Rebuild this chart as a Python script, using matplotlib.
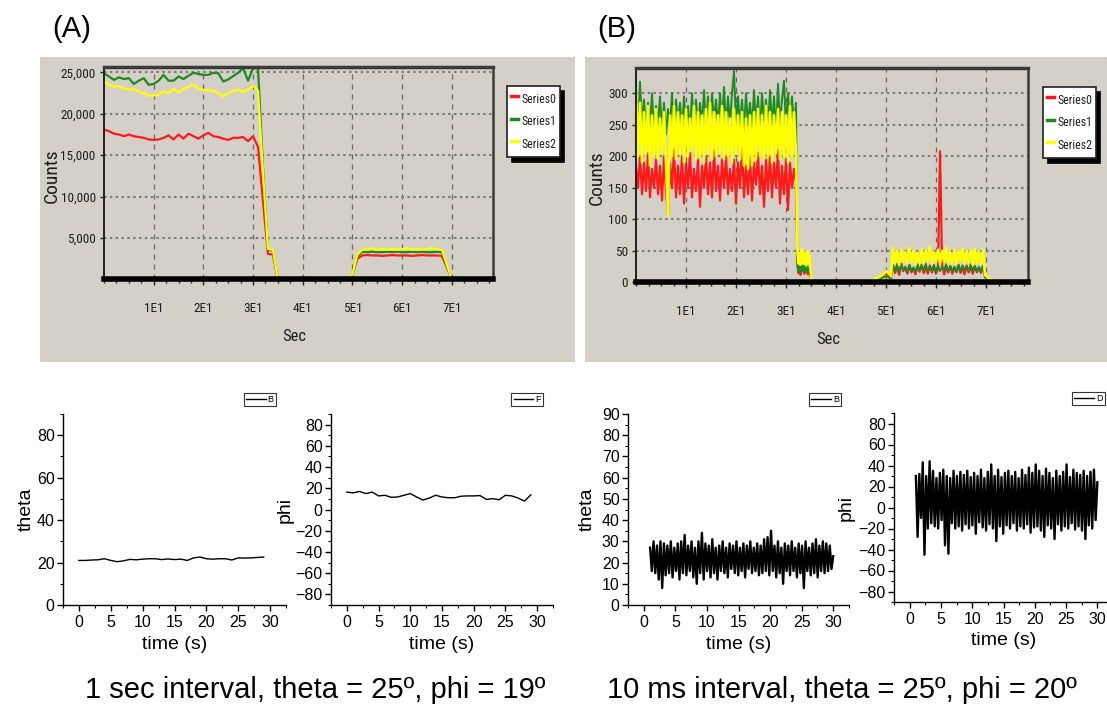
import numpy as np
import matplotlib
matplotlib.use('Agg')
import matplotlib.pyplot as plt
from matplotlib.patches import Rectangle
from matplotlib.lines import Line2D
from matplotlib.ticker import MultipleLocator
from matplotlib import font_manager

# ---------------------------------------------------------------- data
# (A) 1 s interval, counts per second, t = 0 .. 77 s
a_time = np.arange(78)
a_series0 = [18100, 17900, 17600, 17500, 17300, 17500, 17300, 17200, 17100, 16900,
             16850, 16900, 17100, 17400, 16900, 17500, 17000, 17600, 17300, 17000,
             17400, 17700, 17300, 17200, 17000, 16850, 17100, 17100, 17200, 16700,
             17300, 16000, 9500, 3100, 3000, 0,
             0, 0, 0, 0, 0, 0, 0, 0, 0, 0, 0, 0,
             0, 100, 600, 2500,
             2900, 2950, 2900, 2900, 2850, 2900, 2950, 2900, 2900, 2900, 2850, 2900, 2950, 2900, 2900, 2900,
             2850, 1500,
             0, 0, 0, 0, 0, 0, 0, 0]
a_series1 = [24900, 24500, 24100, 24400, 24200, 24300, 23600, 24000, 24300, 23500,
             23600, 24000, 24700, 24000, 24000, 24500, 24200, 24600, 24950, 24800,
             24700, 24700, 24950, 24900, 23900, 24150, 24550, 24950, 25500, 24000,
             25500, 25500, 13500, 3600, 3500, 0,
             0, 0, 0, 0, 0, 0, 0, 0, 0, 0, 0, 0,
             0, 150, 500, 2800,
             3350, 3300, 3350, 3300, 3300, 3350, 3300, 3350, 3300, 3300, 3350, 3300, 3350, 3300, 3300, 3350,
             3300, 1700,
             0, 0, 0, 0, 0, 0, 0, 0]
a_series2 = [23900, 23500, 23300, 23300, 23100, 22950, 22950, 22700, 22500, 22200,
             22200, 22300, 22700, 22500, 23000, 22600, 23000, 23300, 23500, 23000,
             22900, 22800, 22800, 22500, 22100, 22500, 22800, 22900, 22600, 22900,
             23400, 22800, 13000, 3700, 3600, 0,
             0, 0, 0, 0, 0, 0, 0, 0, 0, 0, 0, 0,
             150, 200, 600, 3000,
             3600, 3650, 3800, 3600, 3650, 3600, 3700, 3600, 3650, 3800, 3600, 3650, 3600, 3700, 3800, 3650,
             3600, 1800,
             0, 0, 0, 0, 0, 0, 0, 0]

# (B) 10 ms interval, counts, read segment by segment (start s, end s)
b_segments = [(0.0, 32.0), (32.3, 34.8), (35.1, 51.0), (51.4, 69.4), (69.8, 78.4)]
b_series0 = [
    [185, 150, 200, 140, 190, 145, 205, 135, 180, 150, 195, 140, 185, 130, 200, 145, 106, 190, 150, 210,
     135, 185, 140, 200, 125, 190, 150, 205, 135, 180, 145, 195, 120, 185, 150, 200, 140, 190, 135, 210,
     145, 185, 130, 195, 150, 200, 140, 180, 145, 195, 125, 190, 150, 215, 135, 185, 140, 200, 130, 190,
     155, 205, 140, 185, 120, 195, 145, 200, 135, 190, 150, 210, 125, 185, 140, 195, 115, 190, 150, 180, 160],
    [30, 15, 25, 12, 28, 18, 22, 14, 26, 16, 24, 13, 20, 15],
    [3, 1, 2, 0, 1, 2, 1, 0, 2, 1, 1, 2, 0, 1, 2, 4, 6, 10, 14, 8],
    [28, 15, 25, 12, 30, 18, 24, 14, 27, 16, 22, 13, 26, 17, 28, 15, 24, 14, 27, 16, 25, 14, 22, 208,
     28, 13, 24, 16, 26, 14, 23, 17, 28, 15, 25, 13, 27, 16, 24, 14, 26, 17, 23, 15, 25],
    [10, 5, 3, 2, 1, 2, 1, 2, 1, 2, 1, 2],
]
b_series1 = [
    [300, 240, 318, 250, 290, 235, 285, 245, 300, 230, 280, 250, 295, 240, 285, 235, 275, 245, 300, 230,
     290, 250, 285, 240, 295, 245, 280, 235, 300, 250, 290, 240, 285, 250, 305, 245, 295, 240, 300, 255,
     290, 245, 300, 250, 310, 245, 295, 250, 300, 335, 250, 295, 245, 290, 240, 300, 250, 285, 245, 305,
     250, 295, 240, 300, 255, 290, 245, 305, 250, 295, 240, 315, 250, 290, 320, 245, 300, 250, 295, 245, 285],
    [25, 18, 30, 15, 28, 20, 26, 17, 30, 18, 27, 16, 24, 18],
    [2, 1, 2, 1, 0, 1, 2, 1, 1, 0, 2, 1, 1, 2, 1, 3, 5, 8, 10, 6],
    [26, 18, 30, 16, 27, 20, 25, 15, 28, 19, 24, 16, 29, 18, 26, 20, 30, 17, 25, 19, 28, 16, 27, 18,
     24, 20, 29, 17, 26, 19, 25, 16, 28, 18, 27, 20, 24, 17, 29, 19, 26, 16, 25, 18, 27],
    [8, 4, 2, 2, 1, 1, 2, 1, 2, 1, 1, 2],
]
b_series2 = [
    [305, 200, 285, 190, 270, 205, 280, 185, 265, 200, 275, 195, 260, 205, 270, 190, 105, 265, 200, 280,
     195, 270, 205, 265, 190, 275, 200, 260, 210, 280, 195, 270, 200, 265, 190, 275, 205, 285, 195, 270,
     200, 265, 205, 280, 195, 270, 200, 260, 190, 275, 205, 265, 195, 270, 185, 260, 180, 265, 185, 270,
     195, 275, 200, 265, 195, 280, 200, 270, 190, 265, 205, 275, 195, 270, 200, 265, 190, 280, 200, 270, 205],
    [50, 30, 45, 28, 52, 32, 48, 30, 45, 27, 50, 33, 44, 30],
    [3, 2, 1, 2, 1, 2, 1, 2, 2, 1, 2, 1, 2, 1, 2, 5, 8, 12, 18, 10],
    [55, 30, 50, 28, 52, 33, 48, 30, 55, 32, 50, 28, 47, 31, 53, 30, 50, 35, 56, 30, 48, 32, 52, 29,
     50, 33, 55, 30, 47, 31, 52, 29, 50, 34, 54, 30, 49, 32, 51, 28, 53, 31, 48, 30, 52],
    [12, 6, 4, 3, 2, 3, 2, 3, 2, 3, 2, 3],
]
series_names = ['Series0', 'Series1', 'Series2']
series_colors = ['#FF1A1A', '#1F8A1F', '#FFFF00']

sec_ticks = [10, 20, 30, 40, 50, 60, 70]
sec_labels = ['1E1', '2E1', '3E1', '4E1', '5E1', '6E1', '7E1']
a_yticks = [5000, 10000, 15000, 20000, 25000]
a_ylabels = ['5,000', '10,000', '15,000', '20,000', '25,000']
b_yticks = [0, 50, 100, 150, 200, 250, 300]
b_ylabels = ['0', '50', '100', '150', '200', '250', '300']

# bottom row: 1 s interval (t = 0..29 s)
slow_time = np.arange(30)
theta_slow = [21.0, 21.0, 21.2, 21.3, 21.8, 21.0, 20.4, 20.8, 21.5, 21.3,
              21.6, 21.8, 21.8, 21.4, 21.7, 21.4, 21.6, 21.0, 22.2, 22.6,
              21.8, 21.6, 21.8, 21.8, 21.2, 22.2, 22.1, 22.2, 22.4, 22.6]
phi_slow = [16.4, 15.7, 17.0, 15.0, 16.4, 12.8, 13.4, 11.5, 11.8, 13.4,
            15.0, 11.8, 8.9, 10.8, 13.4, 11.8, 11.1, 11.1, 12.5, 12.8,
            12.8, 13.1, 9.5, 10.2, 9.2, 13.4, 12.8, 10.8, 7.9, 13.8]
# bottom row: 10 ms interval (t = 1..30 s)
fast_range = (1.0, 30.0)
theta_fast = [27, 16, 30, 15, 28, 12, 30, 8, 29, 14,
              28, 15, 30, 13, 27, 16, 29, 12, 30, 15,
              33, 14, 28, 16, 30, 13, 27, 10, 30, 15,
              34, 12, 29, 16, 28, 13, 31, 15, 27, 12,
              28, 16, 30, 15, 27, 13, 29, 17, 28, 15,
              30, 14, 27, 16, 29, 13, 28, 17, 30, 15,
              27, 16, 29, 14, 28, 15, 31, 16, 32, 14,
              35, 16, 28, 13, 30, 15, 27, 10, 29, 16,
              28, 14, 30, 16, 27, 13, 29, 15, 28, 8,
              30, 16, 27, 14, 29, 15, 31, 13, 28, 16,
              30, 15, 29, 16, 28, 17, 23]
phi_fast = [30, -28, 32, -10, 43, -45, 30, -20, 44, -15,
            35, -18, 28, -20, 33, -12, 36, -36, 30, -44,
            28, -15, 35, -20, 30, -18, 34, -22, 31, -16,
            35, -20, 29, -17, 33, -25, 30, -14, 36, -19,
            28, -22, 34, -16, 41, -20, 30, -32, 36, -18,
            29, -25, 33, -17, 35, -20, 30, -15, 34, -22,
            28, -18, 36, -20, 31, -16, 38, -24, 33, -19,
            41, -18, 35, -22, 30, -28, 37, -17, 33, -20,
            28, -30, 35, -16, 30, -22, 34, -18, 41, -20,
            29, -15, 36, -21, 33, -18, 31, -22, 35, -30,
            30, -17, 34, -20, 36, -12, 24]

caption_slow = '1 sec interval, theta = 25º, phi = 19º'
caption_fast = '10 ms interval, theta = 25º, phi = 20º'

# ---------------------------------------------------------------- fonts
names = {f.name for f in font_manager.fontManager.ttflist}
ARIAL = 'Liberation Sans' if 'Liberation Sans' in names else 'DejaVu Sans'
plt.rcParams['font.family'] = [ARIAL, 'DejaVu Sans']


def find_narrow():
    prefs = ['Liberation Sans Narrow', 'Arial Narrow', 'Roboto Condensed', 'Noto Sans Condensed',
             'Open Sans Condensed', 'DejaVu Sans Condensed', 'Noto Sans', 'Roboto', 'Open Sans',
             'DejaVu Sans']
    found = []
    for f in font_manager.fontManager.ttflist:
        nm, st = f.name, str(f.stretch).lower()
        narrow = ('Narrow' in nm or 'Condensed' in nm or
                  st in ('condensed', 'semi-condensed', 'extra-condensed'))
        if not narrow or f.style != 'normal':
            continue
        try:
            w = int(f.weight)
        except (TypeError, ValueError):
            w = 400 if str(f.weight).lower() in ('normal', 'regular', 'book') else 0
        if w != 400:
            continue
        if any(k in nm for k in ('Mono', 'Serif', 'CJK', 'Display')):
            continue
        fn = f.fname.lower()
        if 'semi' in fn or 'extra' in fn or 'ultra' in fn:
            continue
        rank = prefs.index(nm) if nm in prefs else len(prefs)
        found.append((rank, f.fname))
    if found:
        found.sort()
        return found[0][1]
    return None


NARROW_FILE = find_narrow()


def nfont(size):
    if NARROW_FILE:
        return font_manager.FontProperties(fname=NARROW_FILE, size=size)
    return font_manager.FontProperties(family=ARIAL, size=size * 0.85)


W, H = 1107, 709
fig = plt.figure(figsize=(W / 100, H / 100), dpi=100)
fig.patch.set_facecolor('white')


def axes_px(left, top, right, bottom):
    return fig.add_axes([left / W, 1 - bottom / H, (right - left) / W, (bottom - top) / H])


GRAY = '#D4D0C8'
TXT = '#1e1e1e'
for x0, x1 in [(40, 575), (585, 1107)]:
    fig.patches.append(Rectangle((x0 / W, 1 - 362 / H), (x1 - x0) / W, 305 / H,
                                 transform=fig.transFigure, facecolor=GRAY,
                                 edgecolor='none', zorder=-5))


def style_top(ax, xmax, ymax, yt, yl, legend_px, label_x, sec_y):
    ax.set_zorder(2)
    ax.set_facecolor(GRAY)
    ax.set_xlim(0, xmax)
    ax.set_ylim(0, ymax)
    ax.set_xticks(sec_ticks)
    ax.set_xticklabels(sec_labels)
    ax.xaxis.set_minor_locator(MultipleLocator(2.5))
    ax.set_yticks(yt)
    ax.set_yticklabels(yl)
    ax.grid(axis='y', which='major', linestyle=(0, (1.2, 1.6)), color='#7c7c7c', lw=1.5)
    ax.grid(axis='x', which='major', linestyle=(0, (4, 4)), color='#666666', lw=0.9)
    ax.set_axisbelow(True)
    ax.spines['top'].set_color('#3a3a3a'); ax.spines['top'].set_linewidth(2.5)
    ax.spines['right'].set_color('#3a3a3a'); ax.spines['right'].set_linewidth(1.8)
    ax.spines['left'].set_color('#202020'); ax.spines['left'].set_linewidth(1.4)
    ax.spines['bottom'].set_color('black'); ax.spines['bottom'].set_linewidth(4)
    ax.tick_params(axis='x', which='major', direction='out', length=4, width=1,
                   color='#202020', pad=12, labelcolor=TXT)
    ax.tick_params(axis='x', which='minor', direction='out', length=3, width=1, color='#202020')
    ax.tick_params(axis='y', which='major', direction='out', length=3, width=1,
                   color='#202020', pad=3, labelcolor=TXT)
    for t in ax.get_xticklabels() + ax.get_yticklabels():
        t.set_fontproperties(nfont(9.5))
    ax.set_ylabel('Counts', color=TXT, fontproperties=nfont(14))
    ax.yaxis.set_label_coords(label_x, 0.49)
    ax.set_xlabel('Sec', color=TXT, fontproperties=nfont(12))
    ax.xaxis.set_label_coords(0.49, sec_y)
    handles = [Line2D([], [], color=c, lw=2.5) for c in series_colors]
    leg = ax.legend(handles, series_names, loc='upper left',
                    bbox_to_anchor=(legend_px[0] / W, 1 - legend_px[1] / H),
                    bbox_transform=fig.transFigure, frameon=True, fancybox=False,
                    shadow={'ox': 3.5, 'oy': -3.5, 'color': 'black', 'alpha': 1.0},
                    handlelength=0.6, handleheight=2.15, handletextpad=0.3,
                    borderpad=0.3, labelspacing=0.25, borderaxespad=0,
                    prop=nfont(8.5))
    leg.get_frame().set_edgecolor('#202020')
    leg.get_frame().set_linewidth(1.2)
    for t in leg.get_texts():
        t.set_color(TXT)


# ---- (A)
axA = axes_px(104, 67, 493, 279.5)
for vals, c in zip([a_series0, a_series1, a_series2], series_colors):
    axA.plot(a_time, vals, color=c, lw=1.6, solid_joinstyle='round')
style_top(axA, 78.3, 25650, a_yticks, a_ylabels, (507, 86), -0.11, -0.235)

# ---- (B)
axB = axes_px(636, 68, 1028, 282.5)
for segs, c, lw in zip([b_series0, b_series1, b_series2], series_colors, [1.6, 1.4, 1.9]):
    tt = np.concatenate([np.linspace(a, b, len(v)) for (a, b), v in zip(b_segments, segs)])
    yy = np.concatenate([np.asarray(v, float) for v in segs])
    axB.plot(tt, yy, color=c, lw=lw)
style_top(axB, 78.4, 340, b_yticks, b_ylabels, (1043, 87), -0.078, -0.23)

fig.text(72 / W, 1 - 29 / H, '(A)', ha='center', va='center', fontsize=21)
fig.text(617 / W, 1 - 29 / H, '(B)', ha='center', va='center', fontsize=21)


# ---------------------------------------------------------------- bottom row
def style_bottom(ax, ylim, ymaj, ymin, ylabel, lab_x, leg_label, leg_x):
    for s in ['top', 'right']:
        ax.spines[s].set_visible(False)
    for s in ['left', 'bottom']:
        ax.spines[s].set_linewidth(1.0)
    ax.set_xlim(-2.5, 32.5)
    ax.set_ylim(*ylim)
    ax.xaxis.set_major_locator(MultipleLocator(5))
    ax.xaxis.set_minor_locator(MultipleLocator(2.5))
    ax.yaxis.set_major_locator(MultipleLocator(ymaj))
    ax.yaxis.set_minor_locator(MultipleLocator(ymin))
    ax.tick_params(which='major', direction='out', length=4, width=1, labelsize=11.5, pad=2)
    ax.tick_params(axis='x', which='major', pad=3)
    ax.tick_params(which='minor', direction='out', length=2.5, width=0.8)
    ax.set_xlabel('time (s)', fontsize=14)
    ax.xaxis.set_label_coords(0.5, -0.16)
    ax.set_ylabel(ylabel, fontsize=14)
    ax.yaxis.set_label_coords(lab_x, 0.5)
    leg = ax.legend([Line2D([], [], color='black', lw=1.0)], [leg_label], loc='lower right',
                    bbox_to_anchor=(leg_x, 1.04), borderaxespad=0, fancybox=False,
                    frameon=True, fontsize=6.5, handlelength=2.2, handletextpad=0.2,
                    borderpad=0.25)
    leg.get_frame().set_edgecolor('black')
    leg.get_frame().set_linewidth(0.8)


ax1 = axes_px(63, 414, 286, 605)
ax1.plot(slow_time, theta_slow, color='black', lw=1.0)
style_bottom(ax1, (0, 90), 20, 10, 'theta', -0.125, 'B', 0.955)

ax2 = axes_px(331, 414, 553, 605)
ax2.plot(slow_time, phi_slow, color='black', lw=1.0)
style_bottom(ax2, (-90, 90), 20, 10, 'phi', -0.17, 'F', 0.955)

ax3 = axes_px(628, 414, 849, 605)
ax3.plot(np.linspace(*fast_range, len(theta_fast)), theta_fast, color='black', lw=1.7)
style_bottom(ax3, (0, 90), 10, 5, 'theta', -0.145, 'B', 0.964)

ax4 = axes_px(894, 413, 1113, 602)
ax4.plot(np.linspace(*fast_range, len(phi_fast)), phi_fast, color='black', lw=1.7)
style_bottom(ax4, (-90, 90), 20, 10, 'phi', -0.178, 'D', 0.963)

fig.text(315 / W, 1 - 690 / H, caption_slow, ha='center', va='center', fontsize=21)
fig.text(842 / W, 1 - 690 / H, caption_fast, ha='center', va='center', fontsize=21)

fig.savefig('out.png', dpi=100, facecolor='white')
